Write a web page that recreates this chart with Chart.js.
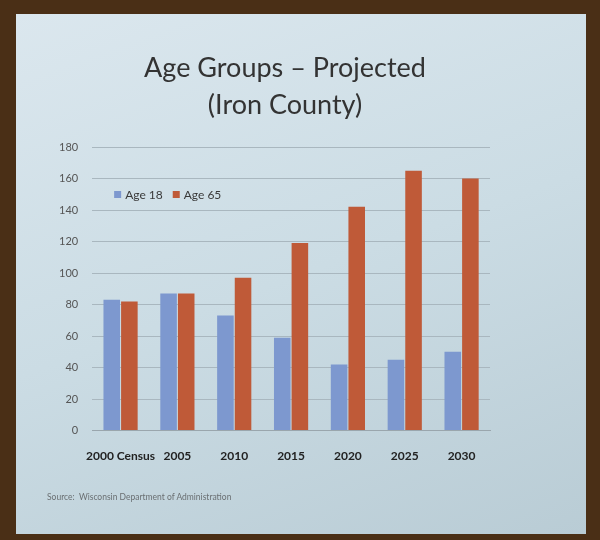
<!DOCTYPE html>
<html>
<head>
<meta charset="utf-8">
<script src="https://cdn.jsdelivr.net/npm/chart.js@4.4.0/dist/chart.umd.min.js"></script>
<style>
  html, body { margin: 0; padding: 0; }
  body { width: 600px; height: 540px; background: #4a2f16; position: relative; overflow: hidden; }
  #slide {
    position: absolute; left: 16px; top: 14px; width: 570px; height: 520px;
    background: linear-gradient(160deg, #dbe7ee 0%, #cbdce4 50%, #b9ccd5 100%);
  }
  #wrap { position: absolute; left: 0; top: 0; width: 600px; height: 540px; }
  #title {
    position: absolute; left: 135px; top: 48px; width: 300px; text-align: center;
    font: 27px/37px Lato, sans-serif; color: #333;
  }
  #source {
    position: absolute; left: 47px; top: 492px;
    font: 8.5px Lato, sans-serif; color: #6a6f72;
  }
</style>
</head>
<body>
<div id="slide"></div>
<div id="wrap"><canvas id="ageChart" width="600" height="540"></canvas></div>
<div id="title">Age Groups &ndash; Projected<br>(Iron County)</div>
<div id="source">Source:&nbsp; Wisconsin Department of Administration</div>
<script>
// Data
const years = ['2000 Census', '2005', '2010', '2015', '2020', '2025', '2030'];
const age18 = [83, 87, 73, 59, 42, 45, 50];
const age65 = [82, 87, 97, 119, 142, 165, 160];
const yTicks = [0, 20, 40, 60, 80, 100, 120, 140, 160, 180];

const ctx = document.getElementById('ageChart').getContext('2d');

// Legend drawn inside the plot, upper left, like the slide
const insideLegend = {
    id: 'insideLegend',
    afterDraw(chart) {
        const c = chart.ctx;
        const area = chart.chartArea;
        let x = area.left + 22;
        const y = area.top + 48;
        c.save();
        c.font = '12px Lato';
        c.textBaseline = 'middle';
        chart.data.datasets.forEach(ds => {
            c.fillStyle = ds.backgroundColor;
            c.fillRect(x, y - 4, 7, 7);
            x += 11;
            c.fillStyle = '#3a3a3a';
            c.fillText(ds.label, x, y);
            x += c.measureText(ds.label).width + 10;
        });
        c.restore();
    }
};

const ageChart = new Chart(ctx, {
    type: 'bar',
    data: {
        labels: years,
        datasets: [
            { label: 'Age 18', data: age18, backgroundColor: '#7d98cf' },
            { label: 'Age 65', data: age65, backgroundColor: '#bf5a38' }
        ]
    },
    options: {
        responsive: false,
        animation: false,
        datasets: { bar: { categoryPercentage: 0.62, barPercentage: 0.94 } },
        layout: { padding: { left: 45, right: 110, top: 147, bottom: 67 } },
        plugins: {
            legend: { display: false },
            tooltip: { enabled: false }
        },
        scales: {
            x: {
                grid: { display: false },
                border: { color: '#9aa6ad' },
                ticks: {
                    color: '#222', font: { family: 'Lato', size: 12, weight: 'bold' },
                    padding: 10, maxRotation: 0, autoSkip: false
                }
            },
            y: {
                min: 0, max: 180,
                afterBuildTicks: axis => { axis.ticks = yTicks.map(v => ({ value: v })); },
                grid: { color: '#a9b7bf', drawTicks: false },
                border: { display: false },
                ticks: { color: '#555', font: { family: 'Lato', size: 11 }, padding: 14 }
            }
        }
    },
    plugins: [insideLegend]
});
</script>
</body>
</html>
